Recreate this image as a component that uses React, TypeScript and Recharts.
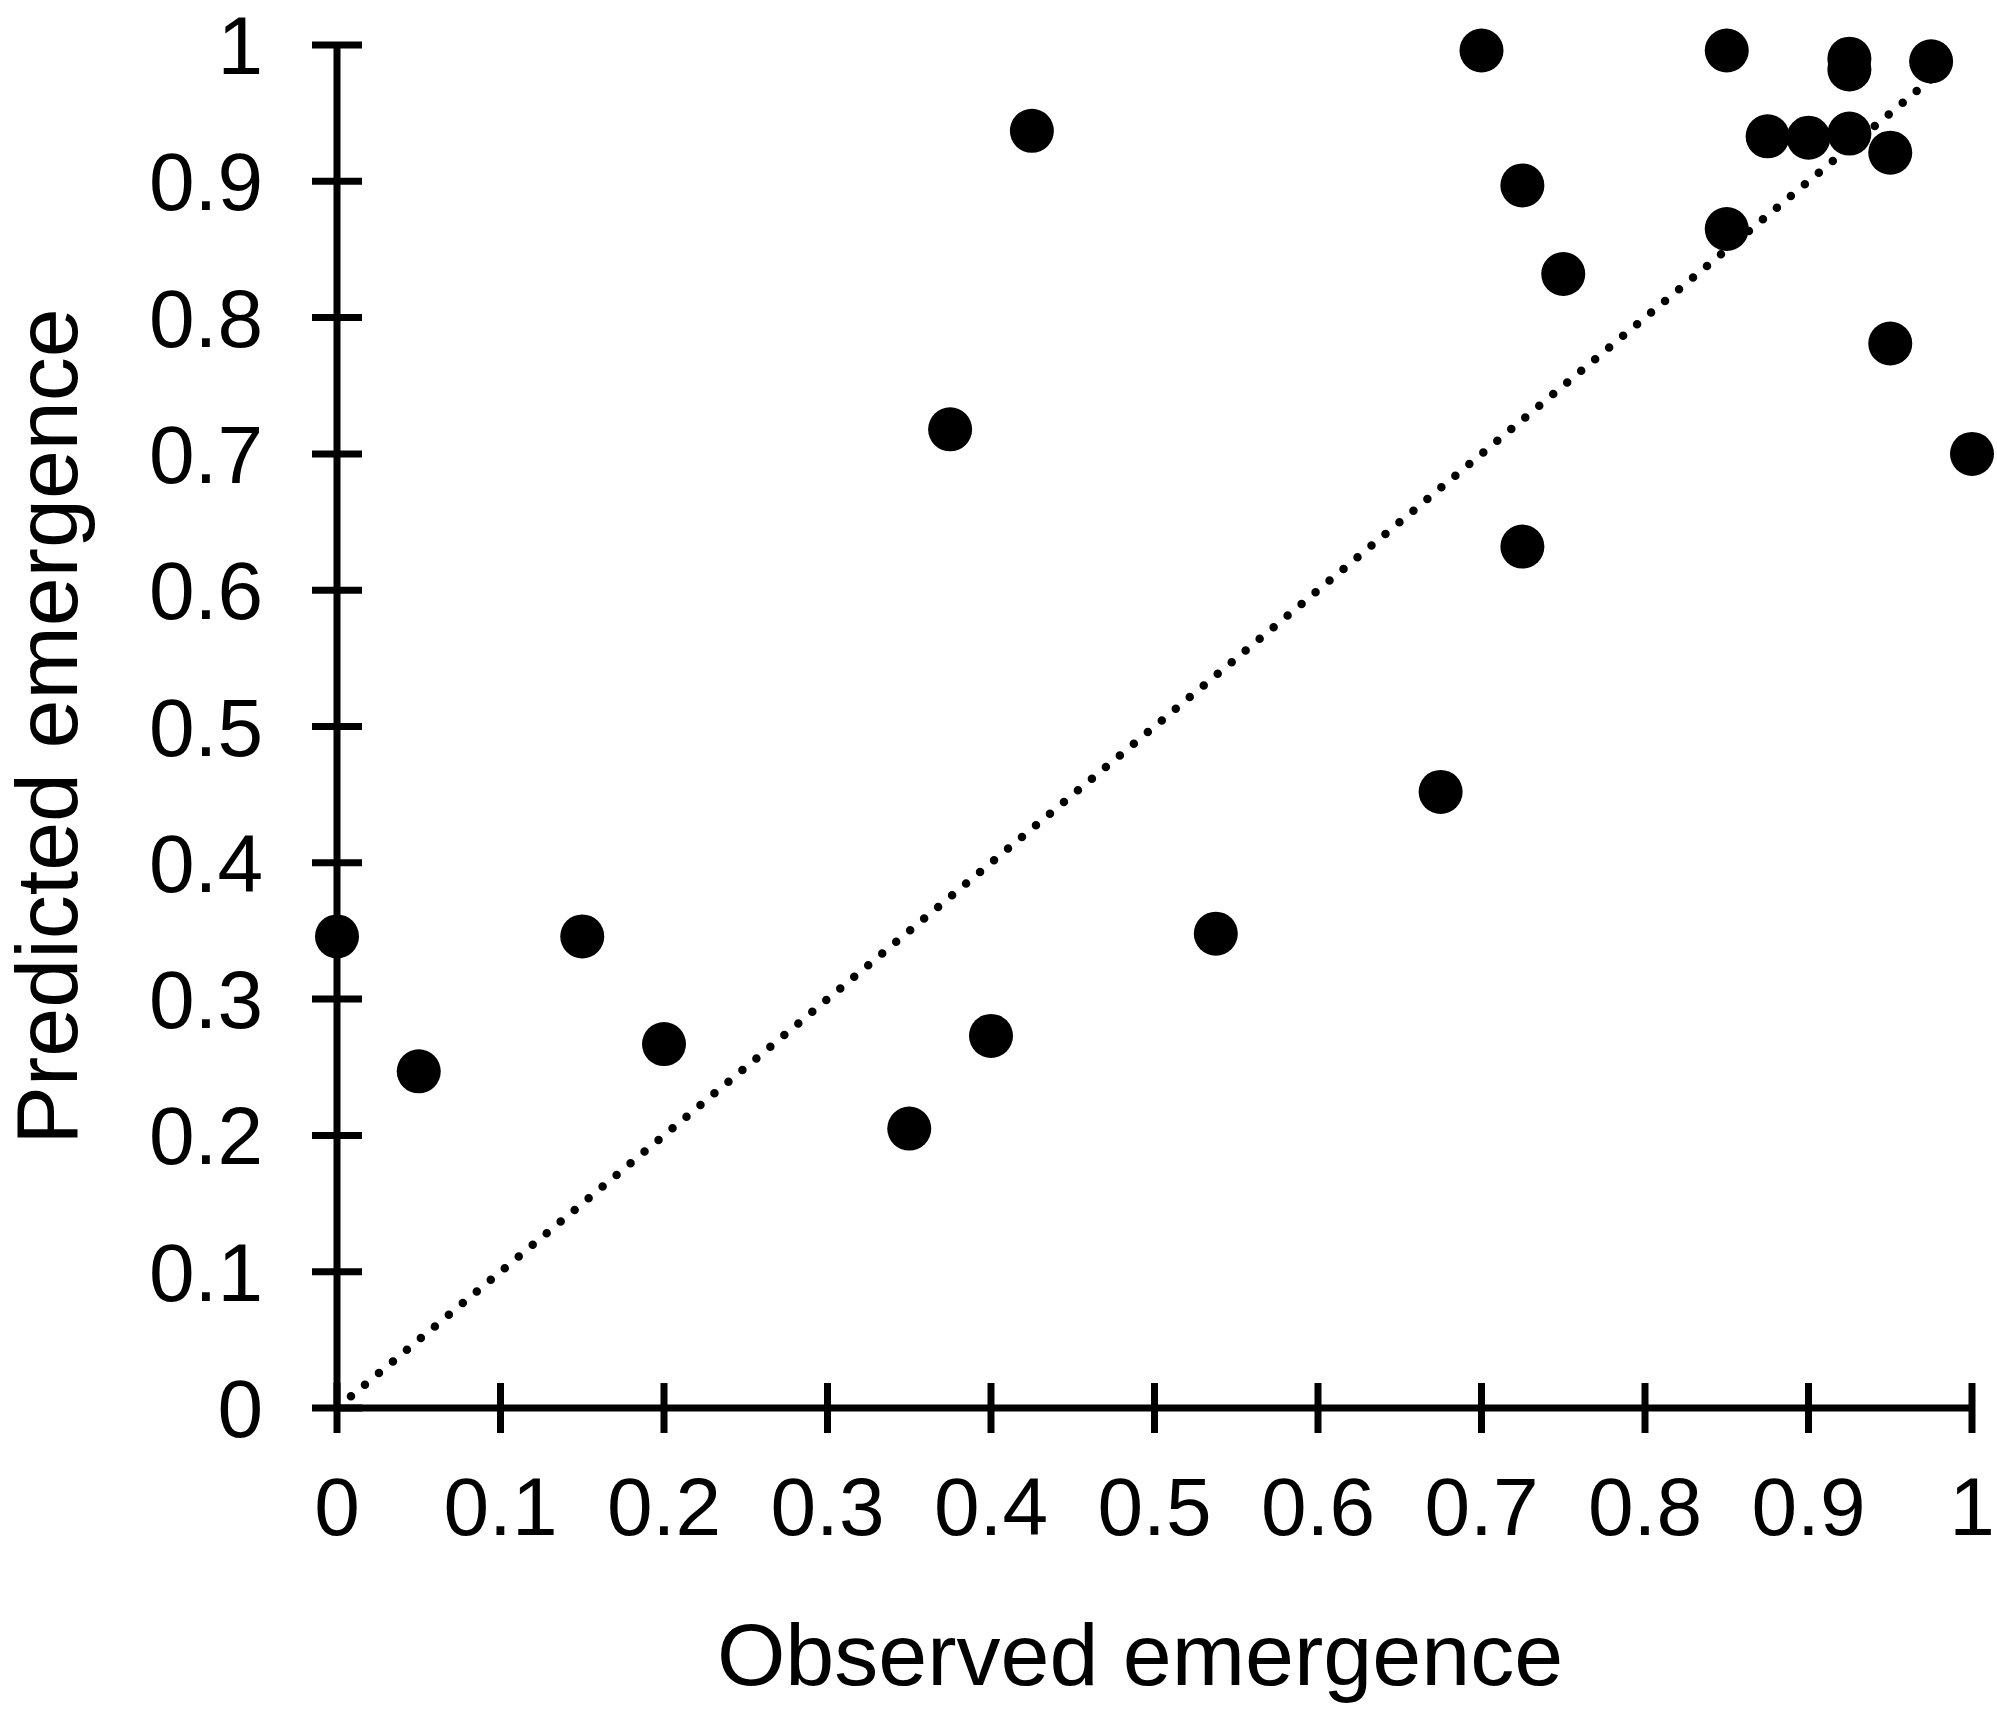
import { ScatterChart, Scatter, XAxis, YAxis, ReferenceLine, Label } from 'recharts'

const FONT = '"Liberation Sans", Arial, sans-serif'

// observed vs predicted emergence, one pair per point
const OBSERVED = [
  0, 0.05, 0.15, 0.2, 0.35, 0.375, 0.4, 0.425, 0.5375, 0.675,
  0.7, 0.725, 0.725, 0.75, 0.85, 0.85, 0.875, 0.9, 0.925, 0.925,
  0.925, 0.95, 0.95, 0.975, 1,
]
const PREDICTED = [
  0.346, 0.247, 0.346, 0.267, 0.205, 0.718, 0.273, 0.937, 0.348, 0.452,
  0.996, 0.897, 0.632, 0.832, 0.996, 0.865, 0.933, 0.932, 0.99, 0.982,
  0.935, 0.921, 0.781, 0.988, 0.7,
]

const TICKS = [0, 0.1, 0.2, 0.3, 0.4, 0.5, 0.6, 0.7, 0.8, 0.9, 1]
const TICK_LABELS = ['0', '0.1', '0.2', '0.3', '0.4', '0.5', '0.6', '0.7', '0.8', '0.9', '1']

// 1:1 dotted line, start and end
const ONE_TO_ONE = [0, 0.98]

const points = OBSERVED.map((x, i) => ({ x, y: PREDICTED[i] }))

const labelFor = (v: number) => TICK_LABELS[TICKS.indexOf(v)] ?? String(v)

// eslint-disable-next-line @typescript-eslint/no-explicit-any
function YTick({ x, y, payload }: any) {
  return (
    <g>
      <line x1={x - 25} x2={x + 25} y1={y} y2={y} stroke="#000" strokeWidth={7} />
      <text x={x - 74} y={y + 29} textAnchor="end" fontSize={82} fontFamily={FONT} fill="#000">
        {labelFor(payload.value)}
      </text>
    </g>
  )
}

// eslint-disable-next-line @typescript-eslint/no-explicit-any
function XTick({ x, y, payload }: any) {
  return (
    <g>
      <line x1={x} x2={x} y1={y - 25} y2={y + 25} stroke="#000" strokeWidth={7} />
      <text x={x} y={y + 127} textAnchor="middle" fontSize={82} fontFamily={FONT} fill="#000">
        {labelFor(payload.value)}
      </text>
    </g>
  )
}

export default function App() {
  return (
    <div style={{ position: 'absolute', left: 0, top: 0, width: 1997, height: 1713, background: '#fff' }}>
      <ScatterChart width={1997} height={1713} margin={{ top: 45, right: 25, bottom: 0, left: 0 }}>
        <XAxis
          dataKey="x"
          type="number"
          domain={[0, 1]}
          ticks={TICKS}
          interval={0}
          height={305}
          tickSize={0}
          tickMargin={0}
          tickLine={false}
          axisLine={{ stroke: '#000', strokeWidth: 7 }}
          tick={<XTick />}
        >
          <Label
            // eslint-disable-next-line @typescript-eslint/no-explicit-any
            content={(p: any) => (
              <text
                x={p.viewBox.x + 803}
                y={p.viewBox.y + 277}
                textAnchor="middle"
                fontSize={88}
                fontFamily={FONT}
                fill="#000"
              >
                Observed emergence
              </text>
            )}
          />
        </XAxis>
        <YAxis
          dataKey="y"
          type="number"
          domain={[0, 1]}
          ticks={TICKS}
          interval={0}
          width={337}
          tickSize={0}
          tickMargin={0}
          tickLine={false}
          axisLine={{ stroke: '#000', strokeWidth: 7 }}
          tick={<YTick />}
        >
          <Label
            // eslint-disable-next-line @typescript-eslint/no-explicit-any
            content={(p: any) => (
              <text
                transform={`translate(${p.viewBox.x + 77}, ${p.viewBox.y + p.viewBox.height / 2}) rotate(-90)`}
                textAnchor="middle"
                fontSize={88}
                fontFamily={FONT}
                fill="#000"
              >
                Predicted emergence
              </text>
            )}
          />
        </YAxis>
        <ReferenceLine
          segment={[
            { x: ONE_TO_ONE[0], y: ONE_TO_ONE[0] },
            { x: ONE_TO_ONE[1], y: ONE_TO_ONE[1] },
          ]}
          stroke="#000"
          strokeWidth={8.5}
          strokeDasharray="0 18.2"
          strokeLinecap="round"
        />
        <Scatter
          data={points}
          isAnimationActive={false}
          // eslint-disable-next-line @typescript-eslint/no-explicit-any
          shape={(p: any) => <circle cx={p.cx} cy={p.cy} r={22} fill="#000" />}
        />
      </ScatterChart>
    </div>
  )
}
